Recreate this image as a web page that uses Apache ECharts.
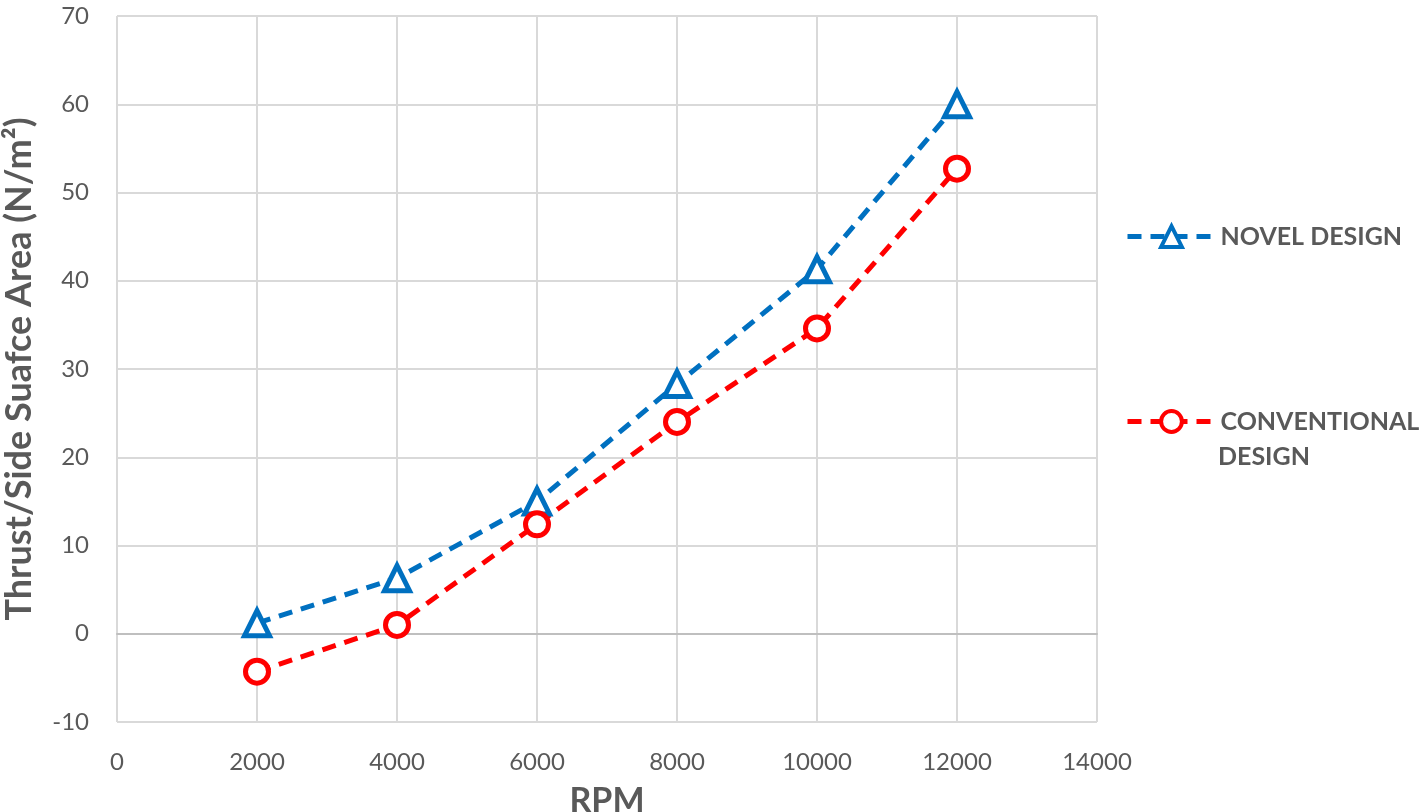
<!DOCTYPE html>
<html><head><meta charset="utf-8">
<script src="https://cdn.jsdelivr.net/npm/echarts@6/dist/echarts.min.js"></script>
<style>html,body{margin:0;padding:0;background:#fff}#c{width:1423px;height:812px}</style>
</head><body><div id="c"></div>
<script>
const rpm = [2000, 4000, 6000, 8000, 10000, 12000];
const novel = [1.2, 6.3, 15.0, 28.3, 41.3, 60.0];
const conventional = [-4.3, 1.0, 12.4, 24.0, 34.6, 52.7];
const seriesNames = ['NOVEL DESIGN', 'CONVENTIONAL DESIGN'];
const xTitle = 'RPM';
const yTitle = 'Thrust/Side Suafce Area (N/m²)';

const font = 'Lato, "Open Sans", sans-serif';
const chart = echarts.init(document.getElementById('c'));
const pair = (xs, ys) => xs.map((x, i) => [x, ys[i]]);
const legendText = { fontFamily: font, fontWeight: 'bold', fontSize: 25, color: '#595959' };
chart.setOption({
  animation: false,
  grid: { left: 117, right: 326, top: 16, bottom: 90, containLabel: false, outerBoundsMode: 'none' },
  xAxis: {
    type: 'value', min: 0, max: 14000, interval: 2000,
    name: xTitle, nameLocation: 'middle', nameGap: 62,
    nameTextStyle: { fontFamily: font, fontWeight: 'bold', fontSize: 34, color: '#595959' },
    axisLine: { show: true, onZero: true, lineStyle: { color: '#bfbfbf', width: 2 } },
    axisTick: { show: false },
    axisLabel: { fontFamily: font, fontSize: 24, color: '#595959', margin: 28, formatter: v => String(v) },
    splitLine: { show: true, lineStyle: { color: '#d9d9d9', width: 2 } }
  },
  yAxis: {
    type: 'value', min: -10, max: 70, interval: 10,
    name: yTitle, nameLocation: 'middle', nameGap: 80, nameRotate: 90,
    nameTextStyle: { fontFamily: font, fontWeight: 'bold', fontSize: 36, color: '#595959' },
    axisLine: { show: false },
    axisTick: { show: false },
    axisLabel: { fontFamily: font, fontSize: 24, color: '#595959', margin: 28 },
    splitLine: { show: true, lineStyle: { color: '#d9d9d9', width: 2 } }
  },
  legend: [
    { data: [seriesNames[0]], left: 1120, top: 219, itemWidth: 88, itemHeight: 26, itemGap: 0,
      lineStyle: { width: 5 }, itemStyle: { borderWidth: 4 },
      textStyle: legendText },
    { data: [seriesNames[1]], left: 1120, top: 404, itemWidth: 88, itemHeight: 26, itemGap: 0,
      lineStyle: { width: 5 }, itemStyle: { borderWidth: 4 },
      formatter: () => 'CONVENTIONAL',
      textStyle: legendText }
  ],
  graphic: [
    { type: 'text', left: 1218, top: 444, style: { text: 'DESIGN', font: 'bold 25px ' + font, fill: '#595959' } }
  ],
  series: [
    { name: seriesNames[0], type: 'line', data: pair(rpm, novel),
      symbol: 'triangle', symbolSize: 25, smooth: false,
      lineStyle: { color: '#0070c0', width: 5, type: [14, 9] },
      itemStyle: { color: '#ffffff', borderColor: '#0070c0', borderWidth: 5 } },
    { name: seriesNames[1], type: 'line', data: pair(rpm, conventional),
      symbol: 'circle', symbolSize: 23, smooth: false,
      lineStyle: { color: '#ff0000', width: 5, type: [14, 9] },
      itemStyle: { color: '#ffffff', borderColor: '#ff0000', borderWidth: 5 } }
  ]
});
</script></body></html>
